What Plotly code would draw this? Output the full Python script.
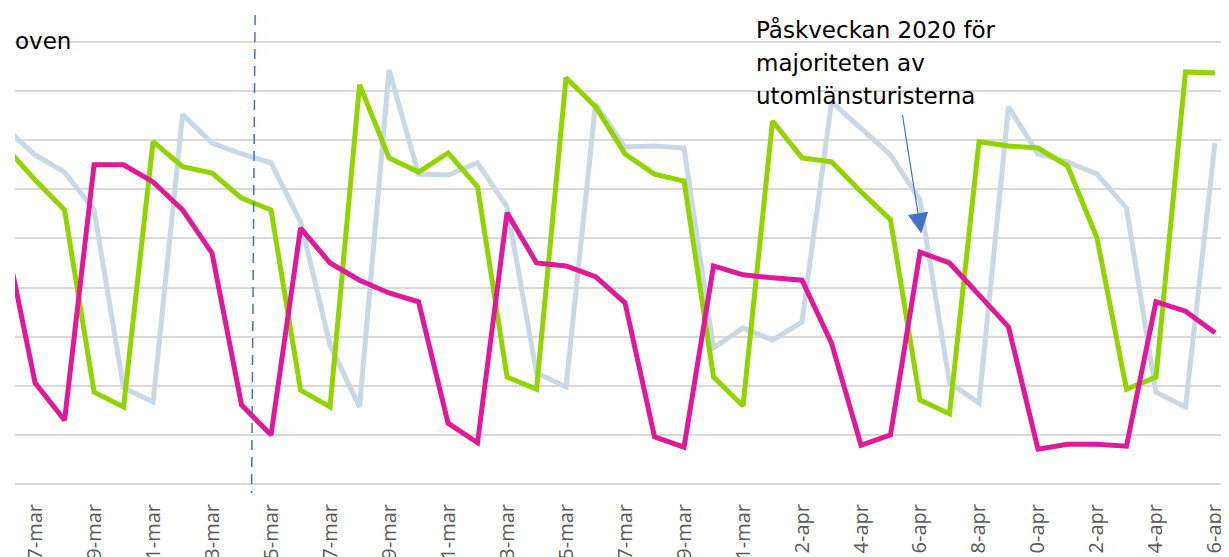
import plotly.graph_objects as go
import pandas as pd

# ---- data ----
dates = pd.date_range("2020-03-06", "2020-04-16", freq="D").strftime("%Y-%m-%d").tolist()

green_values = [6.86, 6.19, 5.58, 1.87, 1.57, 6.97, 6.46, 6.33, 5.82, 5.58,
                1.91, 1.57, 8.13, 6.64, 6.35, 6.74, 6.05, 2.18, 1.93, 8.27,
                7.68, 6.72, 6.31, 6.17, 2.18, 1.59,
                7.39, 6.64, 6.56, 5.95, 5.38, 1.71, 1.43, 6.97, 6.88, 6.84,
                6.48, 5.01, 1.93, 2.18, 8.39, 8.37]

blue_values = [7.25, 6.70, 6.35, 5.58, 1.96, 1.67, 7.52, 6.94, 6.72, 6.54,
               5.34, 2.83, 1.57, 8.43, 6.31, 6.29, 6.54, 5.64, 2.26, 1.98,
               7.74, 6.86, 6.88, 6.84, 2.77, 3.18,
               2.93, 3.30, 7.78, 7.25, 6.70, 5.78, 2.06, 1.65, 7.68, 6.72,
               6.56, 6.31, 5.62, 1.87, 1.57, 6.94]

magenta_values = [5.01, 2.06, 1.30, 6.50, 6.50, 6.15, 5.58, 4.70, 1.61, 1.00,
                  5.21, 4.50, 4.15, 3.89, 3.71, 1.24, 0.84, 5.52, 4.50, 4.44,
                  4.22, 3.69, 0.96, 0.75, 4.44, 4.26,
                  4.20, 4.15, 2.87, 0.79, 1.00, 4.72, 4.50, 3.85, 3.20, 0.71,
                  0.81, 0.81, 0.77, 3.71, 3.52, 3.08]

tick_dates = dates[1::2]
tick_labels = ["7-mar", "9-mar", "11-mar", "13-mar", "15-mar", "17-mar", "19-mar",
               "21-mar", "23-mar", "25-mar", "27-mar", "29-mar", "31-mar",
               "2-apr", "4-apr", "6-apr", "8-apr", "10-apr", "12-apr", "14-apr", "16-apr"]

x_range = ["2020-03-06 07:40", "2020-04-16 11:25"]
y_range = [-0.06, 9.06]

title_text = "oven"
note_lines = ["Påskveckan 2020 för", "majoriteten av", "utomlänsturisterna"]
note_point = ("2020-04-06 01:00", 5.1)
marker_line_x = ("2020-03-14 11:00", "2020-03-14 08:10")

# ---- layout constants (page body has an 8px margin) ----
OFF = 8
W, H = 1229, 557
ML, MR, MT, MB = 7, 8, 31, 78
PW, PH = W - ML - MR, H - MT - MB


def px_x(px):
    """viewport pixel -> paper x"""
    return (px - OFF - ML) / PW


def px_y(py):
    """viewport pixel -> paper y"""
    return (H - MB - (py - OFF)) / PH


fig = go.Figure()
fig.add_trace(go.Scatter(x=dates, y=blue_values, mode="lines", name="Blå",
                         line=dict(color="#C8D8E4", width=5)))
fig.add_trace(go.Scatter(x=dates, y=green_values, mode="lines", name="Grön",
                         line=dict(color="#92D400", width=5)))
fig.add_trace(go.Scatter(x=dates, y=magenta_values, mode="lines", name="Magenta",
                         line=dict(color="#E0189A", width=5)))

fig.add_shape(type="line", xref="x", yref="paper",
              x0=marker_line_x[0], x1=marker_line_x[1],
              y0=px_y(15), y1=px_y(493),
              line=dict(color="#4472C4", width=1.5, dash="10px,7px"))

annotations = [
    dict(text=title_text, xref="paper", yref="paper", x=px_x(13), y=px_y(41),
         xanchor="left", yanchor="middle", showarrow=False,
         font=dict(family="DejaVu Sans", size=23, color="#000000")),
]
baselines = [37, 70, 103]
for line, bl in zip(note_lines, baselines):
    annotations.append(dict(text=line, xref="paper", yref="paper",
                            x=px_x(754), y=px_y(bl - 7), xanchor="left", yanchor="middle",
                            showarrow=False,
                            font=dict(family="DejaVu Sans", size=23, color="#000000")))
annotations.append(dict(text="", x=note_point[0], y=note_point[1], xref="x", yref="y",
                        showarrow=True, arrowhead=2, arrowsize=3.4, arrowwidth=1.2,
                        arrowcolor="#4472C4", ax=-19, ay=-120, standoff=0))

fig.update_layout(
    width=W, height=H,
    margin=dict(l=ML, r=MR, t=MT, b=MB, pad=0, autoexpand=False),
    paper_bgcolor="white", plot_bgcolor="white",
    showlegend=False,
    annotations=annotations,
    xaxis=dict(type="date", range=x_range, tickvals=tick_dates, ticktext=tick_labels,
               tickangle=-90, showgrid=False, zeroline=False, showline=False,
               ticks="", ticklabelstandoff=12, automargin=False,
               tickfont=dict(family="Open Sans", size=20, color="#595959")),
    yaxis=dict(range=y_range, dtick=1, tick0=0, showgrid=True, gridcolor="#D9D9D9",
               gridwidth=2, zeroline=False, showticklabels=False, ticks="",
               showline=False, automargin=False),
)

fig.write_html("out.html")
